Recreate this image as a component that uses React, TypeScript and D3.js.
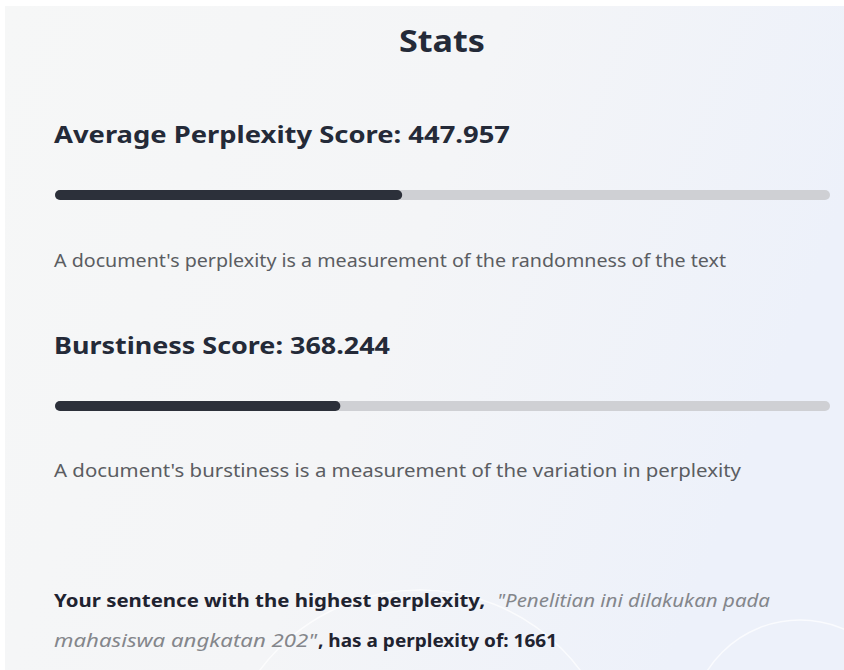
import React from "react";
import * as d3 from "d3";

const title = "Stats";
const maxScore = 1000;
const metricLabels = ["Average Perplexity Score", "Burstiness Score"];
const metricValues = [447.957, 368.244];
const metricDescriptions = [
  "A document's perplexity is a measurement of the randomness of the text",
  "A document's burstiness is a measurement of the variation in perplexity",
];
const highestSentenceParts = ["\"Penelitian ini dilakukan pada", "mahasiswa angkatan 202\""];
const highestPerplexity = 1661;

const W = 844;
const H = 670;
const FONT = "'Noto Sans', 'Open Sans', sans-serif";

export default function App() {
  const x = d3.scaleLinear().domain([0, maxScore]).range([55, 830]);
  const fmt = d3.format(".3f");
  const headingY = [143, 354];
  const barY = [195, 406];
  const descY = [267, 477];
  const headingW = [456, 336];
  const descW = [672, 687];
  const barH = 10;

  return (
    <div style={{ position: "absolute", left: 0, top: 0 }}>
      <svg width={W} height={H} style={{ display: "block" }}>
        <defs>
          <linearGradient id="bg" x1="0" y1="0" x2="1" y2="0.3">
            <stop offset="0%" stopColor="#f6f7f7" />
            <stop offset="55%" stopColor="#f4f5f7" />
            <stop offset="100%" stopColor="#edf1fa" />
          </linearGradient>
        </defs>
        <rect x={0} y={0} width={W} height={H} fill="#ffffff" />
        <rect x={5} y={6} width={W - 5} height={H - 6} fill="url(#bg)" />
        <circle cx={420} cy={790} r={200} fill="none" stroke="#ffffff" strokeOpacity={0.7} strokeWidth={1.5} />
        <circle cx={800} cy={730} r={110} fill="none" stroke="#ffffff" strokeOpacity={0.7} strokeWidth={1.5} />

        <text x={442} y={52} textAnchor="middle" fontFamily={FONT} fontWeight={700} fontSize={30} fill="#242a38"
          textLength={86} lengthAdjust="spacingAndGlyphs">
          {title}
        </text>

        {metricLabels.map((label, i) => (
          <g key={label}>
            <text
              x={54}
              y={headingY[i]}
              fontFamily={FONT}
              fontWeight={700}
              fontSize={24}
              fill="#242a38"
              textLength={headingW[i]}
              lengthAdjust="spacingAndGlyphs"
            >
              {`${label}: ${fmt(metricValues[i])}`}
            </text>
            <rect
              x={x(0)}
              y={barY[i] - barH / 2}
              width={x(maxScore) - x(0)}
              height={barH}
              rx={barH / 2}
              fill="#cfd0d4"
            />
            <rect
              x={x(0)}
              y={barY[i] - barH / 2}
              width={x(metricValues[i]) - x(0)}
              height={barH}
              rx={barH / 2}
              fill="#2c303a"
            />
            <text
              x={54}
              y={descY[i]}
              fontFamily={FONT}
              fontSize={17.5}
              fill="#5b5d62"
              textLength={descW[i]}
              lengthAdjust="spacingAndGlyphs"
            >
              {metricDescriptions[i]}
            </text>
          </g>
        ))}

        <text x={54} y={607} fontFamily={FONT} fontWeight={700} fontSize={18.5} fill="#1f2330"
          textLength={431} lengthAdjust="spacingAndGlyphs">
          Your sentence with the highest perplexity,
        </text>
        <text x={497} y={607} fontFamily={FONT} fontStyle="italic" fontSize={18.5} fill="#84868b"
          textLength={273} lengthAdjust="spacingAndGlyphs">
          {highestSentenceParts[0]}
        </text>
        <text x={54} y={647} fontFamily={FONT} fontStyle="italic" fontSize={18.5} fill="#84868b"
          textLength={263} lengthAdjust="spacingAndGlyphs">
          {highestSentenceParts[1]}
        </text>
        <text x={318} y={647} fontFamily={FONT} fontWeight={700} fontSize={18.5} fill="#1f2330"
          textLength={239} lengthAdjust="spacingAndGlyphs">
          {`, has a perplexity of: ${highestPerplexity}`}
        </text>
      </svg>
    </div>
  );
}
